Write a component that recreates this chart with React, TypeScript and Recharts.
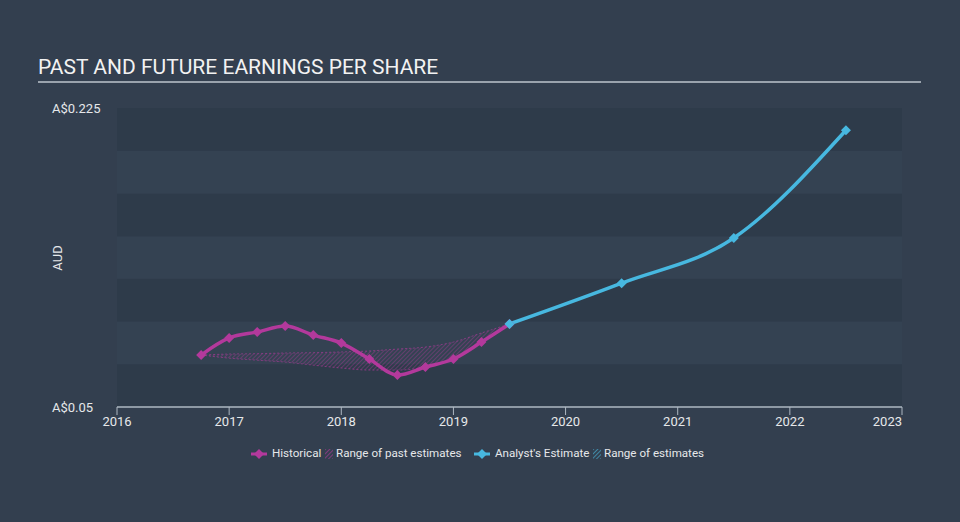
import React from 'react';
import { ComposedChart, Line, Area, XAxis, YAxis, ReferenceArea } from 'recharts';

// ---- data ----
const histYears = [2016.75, 2017.0, 2017.25, 2017.5, 2017.75, 2018.0, 2018.25, 2018.5, 2018.75, 2019.0, 2019.25, 2019.5];
const histEps = [0.0804, 0.0904, 0.0939, 0.0974, 0.0921, 0.0874, 0.0781, 0.0687, 0.0734, 0.0781, 0.088, 0.0986];
const pastRangeLow = [0.0804, 0.0786, 0.0774, 0.0763, 0.0745, 0.0728, 0.0716, 0.0716, 0.0734, 0.0781, 0.088, 0.0986];
const pastRangeHigh = [0.0804, 0.081, 0.0812, 0.0816, 0.0818, 0.0822, 0.0828, 0.0839, 0.0851, 0.088, 0.0933, 0.0986];
const forecastYears = [2019.5, 2020.5, 2021.5, 2022.5];
const forecastEps = [0.0986, 0.1225, 0.1489, 0.212];
const xTicks = [2016, 2017, 2018, 2019, 2020, 2021, 2022, 2023];
const yTicks = [0.05, 0.225];
const yTickLabels = ['A$0.05', 'A$0.225'];
const bandEdges = [0.05, 0.075, 0.1, 0.125, 0.15, 0.175, 0.2, 0.225];

const histData = histYears.map((x, i) => ({ x, eps: histEps[i] }));
const rangeData = histYears.map((x, i) => ({ x, range: [pastRangeLow[i], pastRangeHigh[i]] }));
const forecastData = forecastYears.map((x, i) => ({ x, eps: forecastEps[i] }));

const MAGENTA = '#b3399c';
const BLUE = '#47b8e0';
const BG = '#333f4f';
const BAND_DARK = '#2e3b4a';
const BAND_LIGHT = '#344252';
const TEXT = '#e6e8ea';
const FONT = 'Roboto, sans-serif';

const diamond = (color: string) => (props: any) => {
  const { cx, cy, index } = props;
  if (cx == null || cy == null) return <g key={index} />;
  const r = 5;
  return (
    <path
      key={index}
      d={`M${cx},${cy - r}L${cx + r},${cy}L${cx},${cy + r}L${cx - r},${cy}Z`}
      fill={color}
    />
  );
};

const XTick = (props: any) => {
  const { x, y, payload } = props;
  const last = payload.value === xTicks[xTicks.length - 1];
  return (
    <text x={x} y={y} dy="0.71em" textAnchor={last ? 'end' : 'middle'} fill={TEXT} fontSize={13} fontFamily={FONT}>
      {payload.value}
    </text>
  );
};

const YTick = (props: any) => {
  const { y, payload } = props;
  const idx = yTicks.indexOf(payload.value);
  return (
    <text x={52} y={y} dy="0.35em" textAnchor="start" fill={TEXT} fontSize={13} fontFamily={FONT}>
      {yTickLabels[idx]}
    </text>
  );
};

const HatchIcon = ({ color, id }: { color: string; id: string }) => (
  <svg width={8} height={10} style={{ display: 'block' }}>
    <defs>
      <pattern id={id} width={3} height={3} patternUnits="userSpaceOnUse" patternTransform="rotate(45)">
        <line x1={0} y1={0} x2={0} y2={3} stroke={color} strokeWidth={1.2} />
      </pattern>
    </defs>
    <rect x={0} y={0} width={8} height={10} fill={`url(#${id})`} />
  </svg>
);

const LineIcon = ({ color }: { color: string }) => (
  <svg width={16} height={10} style={{ display: 'block' }}>
    <line x1={0} y1={5} x2={16} y2={5} stroke={color} strokeWidth={3} />
    <path d="M8,0L13,5L8,10L3,5Z" fill={color} />
  </svg>
);

const abs = (left: number, top: number): React.CSSProperties => ({ position: 'absolute', left, top });
const legendText: React.CSSProperties = { fontSize: 11.6, color: TEXT, whiteSpace: 'nowrap' };

export default function App() {
  return (
    <div style={{ position: 'absolute', left: 0, top: 0, width: 960, height: 522, background: BG, fontFamily: FONT, overflow: 'hidden' }}>
      <div style={{ ...abs(38, 55), fontSize: 21, color: '#f2f2f2', letterSpacing: 0, whiteSpace: 'nowrap' }}>
        PAST AND FUTURE EARNINGS PER SHARE
      </div>
      <div style={{ ...abs(38, 81), width: 883, height: 2, background: '#9aa3ad' }} />
      <div style={{ ...abs(40, 250), width: 36, textAlign: 'center', fontSize: 13, color: TEXT, transform: 'rotate(-90deg)', lineHeight: '16px' }}>
        AUD
      </div>
      <div style={abs(0, 0)}>
        <ComposedChart width={960} height={522} margin={{ top: 108, right: 58, bottom: 85, left: 57 }}>
          <defs>
            <pattern id="hatchPast" width={3} height={3} patternUnits="userSpaceOnUse" patternTransform="rotate(45)">
              <line x1={0} y1={0} x2={0} y2={3} stroke={MAGENTA} strokeWidth={1} strokeOpacity={0.75} />
            </pattern>
          </defs>
          <XAxis
            dataKey="x"
            type="number"
            domain={[2016, 2023]}
            ticks={xTicks}
            allowDataOverflow
            height={30}
            stroke="#aeb8c2"
            axisLine={{ stroke: '#aeb8c2', strokeWidth: 1.5 }}
            tickLine={{ stroke: '#aeb8c2' }}
            tickSize={8}
            tickMargin={2}
            tick={<XTick />}
          />
          <YAxis
            type="number"
            domain={[0.05, 0.225]}
            ticks={yTicks}
            allowDataOverflow
            width={60}
            axisLine={false}
            tickLine={false}
            tick={<YTick />}
          />
          {bandEdges.slice(0, -1).map((lo, i) => (
            <ReferenceArea
              key={i}
              y1={lo}
              y2={bandEdges[i + 1]}
              fill={(bandEdges.length - 2 - i) % 2 === 0 ? BAND_DARK : BAND_LIGHT}
              fillOpacity={1}
              stroke="none"
              ifOverflow="visible"
            />
          ))}
          <Area
            data={rangeData}
            dataKey="range"
            type="monotone"
            fill="url(#hatchPast)"
            fillOpacity={1}
            stroke={MAGENTA}
            strokeOpacity={0.6}
            strokeWidth={1}
            strokeDasharray="2 2"
            isAnimationActive={false}
            activeDot={false}
          />
          <Line
            data={histData}
            dataKey="eps"
            type="monotone"
            stroke={MAGENTA}
            strokeWidth={3.5}
            dot={diamond(MAGENTA)}
            activeDot={false}
            isAnimationActive={false}
          />
          <Line
            data={forecastData}
            dataKey="eps"
            type="monotone"
            stroke={BLUE}
            strokeWidth={3.5}
            dot={diamond(BLUE)}
            activeDot={false}
            isAnimationActive={false}
          />
        </ComposedChart>
      </div>
      {/* legend */}
      <div style={{ ...abs(251, 449) }}><LineIcon color={MAGENTA} /></div>
      <div style={{ ...abs(272, 446), ...legendText }}>Historical</div>
      <div style={{ ...abs(325, 449) }}><HatchIcon color={MAGENTA} id="lgPast" /></div>
      <div style={{ ...abs(336, 446), ...legendText }}>Range of past estimates</div>
      <div style={{ ...abs(474, 449) }}><LineIcon color={BLUE} /></div>
      <div style={{ ...abs(495, 446), ...legendText }}>Analyst's Estimate</div>
      <div style={{ ...abs(593, 449) }}><HatchIcon color={BLUE} id="lgFut" /></div>
      <div style={{ ...abs(604, 446), ...legendText }}>Range of estimates</div>
    </div>
  );
}
